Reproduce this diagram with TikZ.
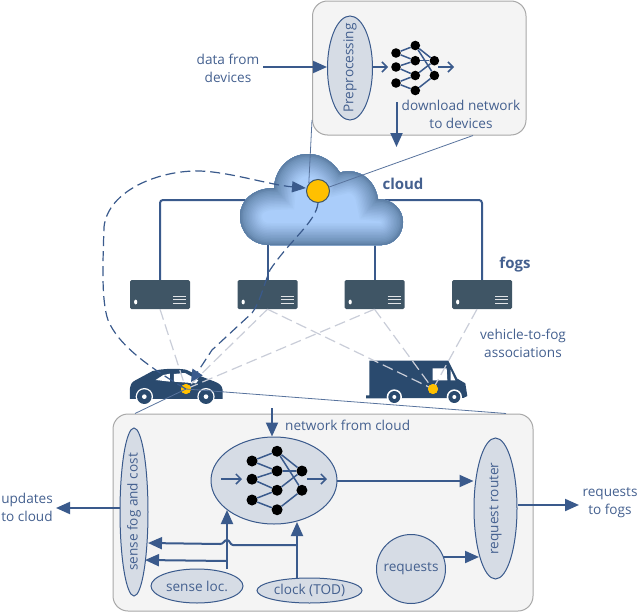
\documentclass[tikz,border=0pt]{standalone}
\usepackage{fontspec}
\setmainfont{Open Sans}
\usetikzlibrary{arrows.meta,calc,shapes.geometric}
\definecolor{ink}{HTML}{3A5A8C}
\definecolor{txt}{HTML}{44608F}
\definecolor{boxfill}{HTML}{F4F4F4}
\definecolor{boxline}{HTML}{A8A8A8}
\definecolor{ellfill}{HTML}{D6DCE5}
\definecolor{srv}{HTML}{3F5565}
\definecolor{veh}{HTML}{2A4A6E}
\definecolor{asso}{HTML}{C9CDD8}
\definecolor{gold}{HTML}{FFC000}
\definecolor{cloudin}{HTML}{AACDFA}
\definecolor{cloudout}{HTML}{587AA0}
\tikzset{
 panel/.style={draw=boxline,fill=boxfill,line width=1pt,rounded corners=15pt},
 oval/.style={draw=ink,fill=ellfill,line width=1pt,ellipse,inner sep=0pt},
 lbl/.style={text=txt,font=\fontsize{13.6}{18}\selectfont,align=center,inner sep=0pt},
 rlbl/.style={lbl,rotate=90},
 flow/.style={draw=ink,line width=2pt,-{Triangle[length=14pt,width=12pt]}},
 trunk/.style={draw=ink,line width=2pt,rounded corners=3pt},
 callout/.style={draw=ink!85,line width=.8pt},
 assoc/.style={draw=asso,line width=1.2pt,dash pattern=on 11pt off 5pt},
 ctrl/.style={draw=ink,line width=1.2pt,dash pattern=on 10pt off 5pt},
 neuron/.style={circle,fill=black,inner sep=0pt},
 syn/.style={draw=ink,line width=1.5pt},
 openarrow/.style={draw=ink,line width=1.5pt,-{Straight Barb[length=5pt,width=10pt,line width=1.5pt]}},
 server/.style={fill=srv,rounded corners=1.5pt,minimum width=60pt,minimum height=29pt,inner sep=0pt},
 dot/.style={circle,fill=gold,inner sep=0pt,minimum size=10pt},
}
% prefix, x, y, scale, neuron diameter
\newcommand{\nnet}[5]{%
 \begin{scope}[shift={(#2,#3)},x=#4pt,y=-#4pt,every node/.append style={neuron,minimum size=#5pt}]
 \node (#1a) at (0,0) {};
 \node (#1b) at (0,14) {};
 \node (#1c) at (0,30) {};
 \node (#1d) at (19.3,-7.5) {};
 \node (#1e) at (19.3,7.7) {};
 \node (#1f) at (19.3,22.5) {};
 \node (#1g) at (19.3,37.5) {};
 \node (#1h) at (38.4,7.7) {};
 \node (#1i) at (38.4,22.5) {};
 \foreach \p/\q in {a/d,a/e,b/e,b/f,c/f,c/g,d/h,d/i,e/h,f/h,g/i}{\draw[syn] (#1\p) -- (#1\q);}
 \end{scope}}
\newcommand{\serverbox}[2]{%
 \node[server] (#1) at (#2,294.5) {};
 \fill[white] (#2-24.3,302) ellipse (1.6pt and 2.4pt);
 \foreach \yy in {296,299.5,303}{\draw[white!85!srv,line width=1pt] (#2+13,\yy) -- (#2+26,\yy);}
}
\newcommand{\cloudpath}{(270,245) .. controls (251,245) and (240,232) .. (240,216)
 .. controls (240,200) and (254,188) .. (274,188)
 .. controls (275,168) and (290,154) .. (308,154)
 .. controls (322,154) and (333,162) .. (340,172.5)
 .. controls (345,171) and (350,171) .. (355,172)
 .. controls (368,175) and (376,186) .. (378,199)
 .. controls (393,199) and (403,210) .. (403,222)
 .. controls (403,235) and (393,245) .. (382,245) -- cycle}
\begin{document}
\begin{tikzpicture}[x=1pt,y=-1pt]
\useasboundingbox (0,0) rectangle (640,613);
% panels
\path[panel] (312.5,1) rectangle (526,135);
\path[panel] (113,414) rectangle (533,611);
\coordinate (topboxL) at (312,120);
\coordinate (topboxB) at (473,135.5);
\coordinate (botboxL) at (135,413.5);
\coordinate (botboxR) at (506,413.5);

% servers and trunk lines
\coordinate (cloudL) at (246,200);
\coordinate (cloudR) at (379,200);
\serverbox{s1}{160}
\serverbox{s2}{267.5}
\serverbox{s3}{374.5}
\serverbox{s4}{482}
\draw[trunk] (s1.north) -- (160,200) -- (cloudL);
\draw[trunk] (s4.north) -- (482,200) -- (cloudR);
\draw[trunk] (s2.north) -- (267.5,240);
\draw[trunk] (s3.north) -- (374.5,240);

% cloud
\begin{scope}
\clip \cloudpath;
\fill[cloudin] (230,150) rectangle (410,250);
\foreach \w/\m in {44/5,41/10,38/15,35/20,32/26,29/32,26/38,23/44,20/50,17/56,14/62,11/68,8/75,5/85,2/95}{
 \draw[line width=\w pt,draw=cloudout!\m!cloudin] \cloudpath;
}
\end{scope}
\node[circle,draw=srv,fill=gold,line width=1pt,minimum size=23pt,inner sep=0pt] (hub) at (318,191) {};

% vehicles
\begin{scope}[shift={(110,300)},x=.3333pt,y=-.3333pt]
 \fill[veh] (60,297) -- (60,265) .. controls (62,252) and (66,246) .. (76,241) -- (128,213) .. controls (160,205) and (205,205) .. (228,209) -- (265,226) -- (312,244) .. controls (328,250) and (336,256) .. (338,270) -- (338,297) -- cycle;
 \fill[white] (137,240) -- (160,225) -- (180,221) -- (180,245) -- cycle;
 \fill[white] (192,222) -- (225,219) -- (265,241) -- (258,250) -- (192,245) -- cycle;
 \foreach \cx in {103,288}{
 \fill[white] (\cx,290) circle (26);
 \fill[veh] (\cx,290) circle (22);
 \fill[white] (\cx,290) circle (7);}
\end{scope}
\begin{scope}[shift={(350,270)},x=.3333pt,y=-.3333pt]
 \fill[veh] (48,385) -- (48,376) -- (58,376) -- (58,272) -- (295,272) -- (322,326) -- (346,340) -- (352,378) -- (340,384) -- cycle;
 \fill[white] (248,295) -- (290,295) -- (292,331) -- (248,331) -- cycle;
 \fill[white] (302,300) -- (316,331) -- (302,331) -- cycle;
 \foreach \cx in {133,313}{
 \fill[white] (\cx,381) circle (23);
 \fill[veh] (\cx,381) circle (18);
 \fill[white] (\cx,381) circle (6);}
\end{scope}
\node[dot] (car) at (186,389) {};
\node[dot] (van) at (433,389) {};

% associations
\draw[assoc] (s1.south) -- (car.center);
\draw[assoc] (s2.south) -- (car.center);
\draw[assoc] (s3.south) -- (car.center);
\draw[assoc] (s2.south) -- (van.center);
\draw[assoc] (s3.south) -- (van.center);
\draw[assoc] ([xshift=-5pt]s4.south) -- (van.center);
\node[dot] at (car) {};
\node[dot] at (van) {};

% callouts
\draw[callout] (topboxL) -- (hub.140);
\draw[callout] (topboxB) -- (hub);
\draw[callout] (car.center) -- (botboxL);
\draw[callout] (car.center) -- (botboxR);

% top-box content
\node[oval,minimum width=45pt,minimum height=104pt] (pre) at (350,68) {};
\node[rlbl] at (pre) {Preprocessing};
\nnet{t}{396}{53}{1}{9.6}
\coordinate (tin) at (388,67);
\coordinate (tout) at (438,67);
\coordinate (tout2) at (454,67);
\draw[openarrow] (pre.east |- tin) -- (tin);
\draw[openarrow] (tout) -- (tout2);

\node[lbl] (dfd) at (228,68) {data from\\devices};
\coordinate (dfdA) at (263,67);
\draw[flow] (dfdA) -- (pre.west |- dfdA);
\node[lbl] (dn) at (461,114) {download network\\to devices};
\coordinate (dnA) at (396.5,102);
\coordinate (dnB) at (396.5,147);
\draw[flow] (dnA) -- (dnB);

% control
\draw[ctrl,-{Triangle[length=14pt,width=11pt]}] (car.center) .. controls (150,368) and (118,345) .. (108,320)
 .. controls (101,300) and (103,260) .. (104,227)
 .. controls (108,190) and (160,170) .. (200,171)
 .. controls (230,172) and (270,185) .. (306,188);
\coordinate (hubtail) at (212,350);
\draw[ctrl,-{Triangle[length=12pt,width=12pt]}] (hub.south) .. controls (316,222) and (290,240) .. (270,270)
 .. controls (262,290) and (260,302) .. (252,313) -- (hubtail) -- (191,382);

\node[lbl,font=\bfseries\fontsize{15}{18}\selectfont] (cl) at (403,184) {cloud};
\node[lbl,font=\bfseries\fontsize{15}{18}\selectfont] (fg) at (515,265) {fogs};
\node[lbl] (v2f) at (523,343) {vehicle-to-fog\\associations};

% bottom-box content
\node[oval,minimum width=126pt,minimum height=87pt] (core) at (274,480.5) {};
\nnet{b}{252}{461}{1.3}{11}
\node[oval,minimum width=28pt,minimum height=168pt] (sense) at (134,512) {};
\node[rlbl] at (sense) {sense fog and cost};
\node[oval,minimum width=43pt,minimum height=141pt] (router) at (495.5,508.5) {};
\node[rlbl] at (router) {request router};
\node[oval,minimum width=92pt,minimum height=34pt] (loc) at (197,586) {};
\node[lbl] at (loc) {sense loc.};
\node[oval,minimum width=105pt,minimum height=25pt] (clk) at (309.5,590.5) {};
\node[lbl] at (clk) {clock (TOD)};
\node[draw=ink,fill=ellfill,line width=1pt,circle,inner sep=0pt,minimum size=69pt] (req) at (411,569) {};
\node[lbl] at (req) {requests};
\coordinate (cin1) at (221,479);\coordinate (cin2) at (242,479);
\coordinate (cout1) at (307,479);\coordinate (cout2) at (327,479);
\draw[openarrow] (cin1) -- (cin2);
\draw[openarrow] (cout1) -- (cout2);

\coordinate (netA) at (272,408);
\draw[flow] (netA) -- (core.north -| netA);
\node[lbl,anchor=west] (nfc) at (285,425.5) {network from cloud};
\coordinate (coreOut) at (337,481);
\draw[flow] (coreOut) -- (router.west |- coreOut);
\coordinate (reqOut) at (443,557);
\coordinate (reqIn) at (479,557);
\draw[flow] (reqOut) -- (reqIn);
\coordinate (rtOut) at (579,505);
\draw[flow] (router.east |- rtOut) -- (rtOut);
\node[lbl] (rtf) at (610,503) {requests\\to fogs};
\coordinate (upd) at (56,508);
\draw[flow] (sense.west |- upd) -- (upd);
\node[lbl] (utc) at (27,507) {updates\\to cloud};

\coordinate (locT) at (227,569);
\coordinate (locH) at (227,510);
\coordinate (clkT) at (297,578);
\coordinate (clkH) at (297,522);
\coordinate (sTip1) at (148,543);
\coordinate (sTip2) at (145,560);
\draw[flow] (locT) -- (locH);
\draw[flow] (clkT) -- (clkH);
\draw[flow] (297,545) -- (233,545) .. controls (230,545) and (230,540) .. (227,540) .. controls (224,540) and (224,544) .. (220,544) -- (sTip1);
\draw[flow] (227,561) -- (sTip2);
\end{tikzpicture}
\end{document}
